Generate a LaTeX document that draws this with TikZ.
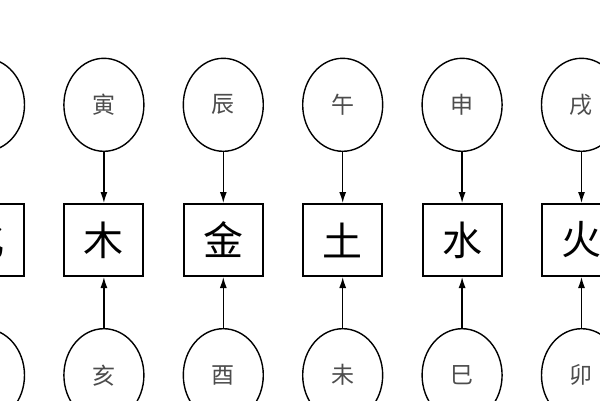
\documentclass[tikz,border=0pt]{standalone}
\usepackage{fontspec}
\newfontfamily\cjk{Noto Sans CJK SC}
\usetikzlibrary{arrows.meta,shapes.geometric,matrix}

\begin{document}
\begin{tikzpicture}[x=1pt, y=1pt,
font=\cjk, chart/.style={
    matrix of nodes,
    nodes={draw=black, anchor=center},
    column sep=38pt,
    row sep=51pt,
    row 1/.style={nodes=branch},
    row 2/.style={nodes=element},
    row 3/.style={nodes=branch},
},
branch/.style={ellipse, line width=1.4pt, minimum width=80pt, minimum height=93pt,
    inner sep=0pt, text=black!70, font=\cjk\fontsize{23}{23}\selectfont},
element/.style={rectangle, line width=2pt, minimum width=79pt, minimum height=72pt,
    inner sep=0pt, font=\cjk\fontsize{40}{40}\selectfont},
link/.style={-{Latex[length=11pt,width=7pt]}, line width=1.3pt},
]
\useasboundingbox (0,0) rectangle (600,400);
\clip (0,0) rectangle (600,400);

\matrix[chart] (chart) at (283,160) {
   子 & 寅 & 辰 & 午 & 申 & 戌 \\
   化 & 木 & 金 & 土 & 水 & 火 \\
   丑 & 亥 & 酉 & 未 & 巳 & 卯 \\
};

\draw[link] (chart-1-1) to (chart-2-1);
\draw[link] (chart-1-2) to (chart-2-2);
\draw[link] (chart-1-3) to (chart-2-3);
\draw[link] (chart-1-4) to (chart-2-4);
\draw[link] (chart-1-5) to (chart-2-5);
\draw[link] (chart-1-6) to (chart-2-6);

\draw[link] (chart-3-1) to (chart-2-1);
\draw[link] (chart-3-2) to (chart-2-2);
\draw[link] (chart-3-3) to (chart-2-3);
\draw[link] (chart-3-4) to (chart-2-4);
\draw[link] (chart-3-5) to (chart-2-5);
\draw[link] (chart-3-6) to (chart-2-6);

\end{tikzpicture}
\end{document}
